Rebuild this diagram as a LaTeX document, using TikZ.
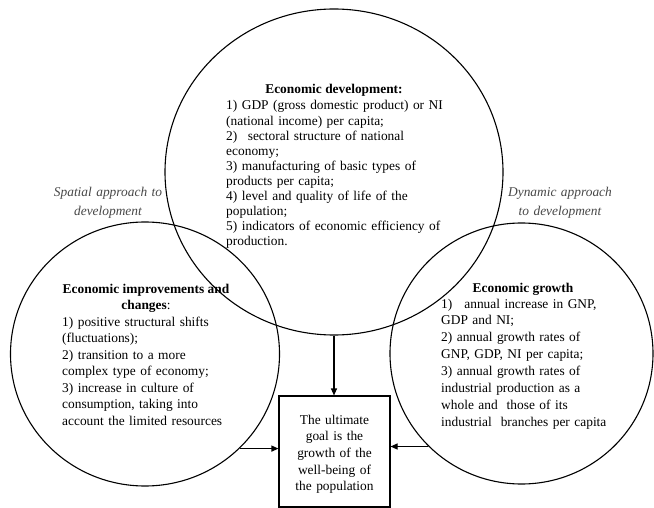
\documentclass[tikz,border=0pt]{standalone}
\usepackage{fontspec}
\setmainfont{Liberation Serif}
\usetikzlibrary{shapes.geometric,arrows.meta}
\begin{document}
\begin{tikzpicture}[x=1pt,y=-1pt,
  ring/.style={ellipse, draw, line width=1.1pt, inner sep=0pt},
  body/.style={inner sep=0pt, text=black, font=\fontsize{13.4}{#1}\selectfont, align=left, anchor=base west, text width=240pt},
  body/.default=16.6,
  heading/.style={inner sep=0pt, text=black, font=\fontsize{13.4}{16.6}\selectfont\bfseries, anchor=base},
  sidelab/.style={inner sep=0pt, text=black!72, font=\fontsize{13.4}{18}\selectfont\itshape, align=center, anchor=base, text width=140pt},
  goalbox/.style={draw, line width=1.1pt, minimum width=111pt, minimum height=111pt, inner sep=0pt},
  arr/.style={line width=1.1pt, -{Triangle[length=7pt,width=6pt]}}
]
\useasboundingbox (0,0) rectangle (654,508);

% circles
\node[ring, minimum width=338pt, minimum height=326pt] (dev) at (334,172) {};
\node[ring, minimum width=269pt, minimum height=264pt] (imp) at (145,354) {};
\node[ring, minimum width=263pt, minimum height=261pt] (gro) at (521.5,353.5) {};

% goal box
\node[goalbox] (goal) at (334.5,451.5) {};
\node[inner sep=0pt, font=\fontsize{13.4}{16.7}\selectfont, align=center, anchor=base, text width=111pt] (goalt) at (334.5,424)
  {The ultimate\\goal is the\\growth of the\\well-being of\\the population};

% top circle text
\node[heading] (devt) at (334,94) {Economic development:};
\node[body=15.1] (devl) at (226,110)
  {1) GDP (gross domestic product) or NI\\
   (national income) per capita;\\
   2)\hspace{6pt} sectoral structure of national\\
   economy;\\
   3) manufacturing of basic types of\\
   products per capita;\\
   4) level and quality of life of the\\
   population;\\
   5) indicators of economic efficiency of\\
   production.};

% left circle text
\node[heading] (impt) at (146,293) {Economic improvements and};
\node[heading] (impt2) at (146,309) {changes\mdseries:};
\node[body=16.6] (impl) at (62,326)
  {1) positive structural shifts\\
   (fluctuations);\\
   2) transition to a more\\
   complex type of economy;\\
   3) increase in culture of\\
   consumption, taking into\\
   account the limited resources};

% right circle text
\node[heading] (grot) at (523,292) {Economic growth};
\node[body=16.86] (grol) at (441,308)
  {1)\hspace{12pt}annual increase in GNP,\\
   GDP and NI;\\
   2) annual growth rates of\\
   GNP, GDP, NI per capita;\\
   3) annual growth rates of\\
   industrial production as a\\
   whole and\ \ those of its\\
   industrial\ \ branches per capita};

% side labels
\node[sidelab] (spa) at (108,197) {Spatial approach to\\development};
\node[sidelab] (dyn) at (560,197) {Dynamic approach\\to development};

% arrows
\draw[arr] (dev.south) -- (dev.south |- goal.north);
\draw[arr] (imp.-45) -- (imp.-45 -| goal.west);
\draw[arr] (gro.-135) -- (gro.-135 -| goal.east);
\end{tikzpicture}
\end{document}
